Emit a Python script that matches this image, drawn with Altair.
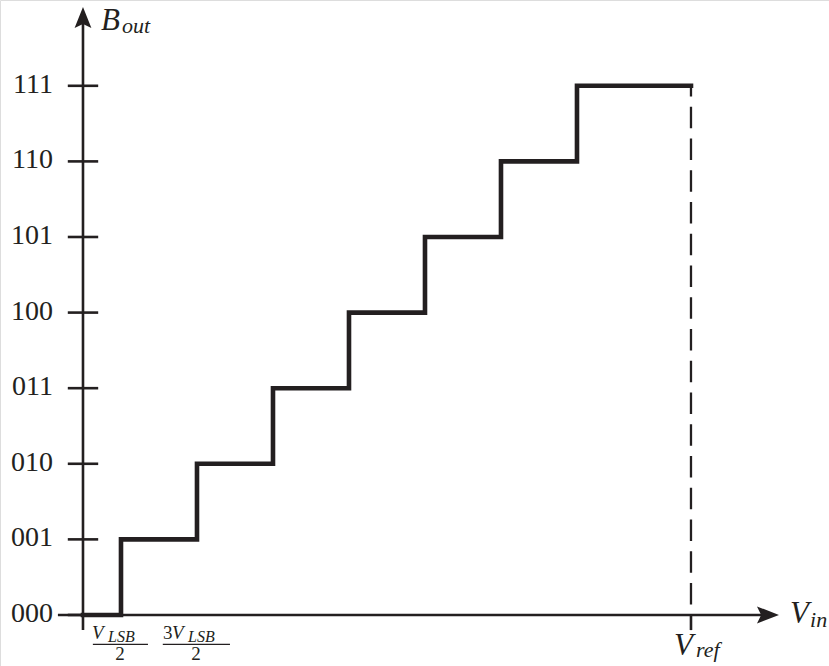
import altair as alt
import pandas as pd

# ---- data ----
codes = ["000", "001", "010", "011", "100", "101", "110", "111"]
levels = [0, 1, 2, 3, 4, 5, 6, 7]
step_x = [0, 0.5, 1.5, 2.5, 3.5, 4.5, 5.5, 6.5, 8]   # in units of V_LSB
step_y = [0, 1, 2, 3, 4, 5, 6, 7, 7]
v_ref = 8
frac_pos = [0.5, 1.5]

INK = "#231f20"
SERIF = "Liberation Serif"

xs = alt.Scale(domain=[-1.092, 9.816], nice=False, zero=False)
ys = alt.Scale(domain=[-0.675, 8.135], nice=False, zero=False)


def X(f="x"):
    return alt.X(f"{f}:Q", scale=xs, axis=None)


def Y(f="y"):
    return alt.Y(f"{f}:Q", scale=ys, axis=None)


def rule(df, **kw):
    enc = {}
    for c in df.columns:
        if c == "x":
            enc["x"] = X("x")
        elif c == "x2":
            enc["x2"] = alt.X2("x2:Q")
        elif c == "y":
            enc["y"] = Y("y")
        elif c == "y2":
            enc["y2"] = alt.Y2("y2:Q")
    props = dict(color=INK, strokeWidth=2.6)
    props.update(kw)
    return alt.Chart(df).mark_rule(**props).encode(**enc)


def text(df, **kw):
    props = dict(font=SERIF, color=INK, baseline="alphabetic", align="left")
    props.update(kw)
    return alt.Chart(df).mark_text(**props).encode(x=X("x"), y=Y("y"), text="t:N")


# ---- axes ----
y_axis = rule(pd.DataFrame({"x": [0], "y": [-0.2], "y2": [7.9]}))
x_axis = rule(pd.DataFrame({"x": [-0.33], "x2": [9.0], "y": [0]}))
y_ticks = rule(pd.DataFrame({"x": [-0.2] * len(levels), "x2": [0.2] * len(levels), "y": levels}))
ref_tick = rule(pd.DataFrame({"x": [v_ref], "y": [0], "y2": [-0.2]}))

up_arrow = alt.Chart(pd.DataFrame({"x": [0], "y": [7.903]})).mark_point(
    shape="M0,-1 L0.8,1 L0,0.62 L-0.8,1 Z", size=441, filled=True, fill=INK, stroke=None, opacity=1
).encode(x=X("x"), y=Y("y"))
right_arrow = alt.Chart(pd.DataFrame({"x": [9.013], "y": [0]})).mark_point(
    shape="M1,0 L-1,0.78 L-0.62,0 L-1,-0.78 Z", size=484, filled=True, fill=INK, stroke=None, opacity=1
).encode(x=X("x"), y=Y("y"))

# ---- dashed V_ref line ----
dashed = rule(pd.DataFrame({"x": [v_ref], "y": [7], "y2": [0]}),
              strokeWidth=2.3, strokeDash=[21.5, 10.25], strokeDashOffset=10.75)

# ---- staircase ----
stairs = alt.Chart(pd.DataFrame({"x": step_x, "y": step_y})).mark_line(
    interpolate="step-after", color=INK, strokeWidth=4.6, strokeJoin="miter", strokeCap="square"
).encode(x=X("x"), y=Y("y"), order="x:Q")

# ---- y tick labels ----
y_labels = text(pd.DataFrame({"x": [0] * len(codes), "y": levels, "t": codes}),
                align="right", baseline="middle", dx=-30, dy=-1, fontSize=28)

# ---- axis titles ----
b_main = text(pd.DataFrame({"x": [0], "y": [7.738], "t": ["B"]}), dx=18, fontSize=31, fontStyle="italic")
b_sub = text(pd.DataFrame({"x": [0], "y": [7.738], "t": ["out"]}), dx=39, dy=3, fontSize=22, fontStyle="italic")

vin_main = text(pd.DataFrame({"x": [9.33], "y": [0], "t": ["V"]}), dx=-2, dy=8, fontSize=31, fontStyle="italic")
vin_sub = text(pd.DataFrame({"x": [9.33], "y": [0], "t": ["in"]}), dx=18, dy=12, fontSize=22, fontStyle="italic")

vref_main = text(pd.DataFrame({"x": [v_ref], "y": [0], "t": ["V"]}), dx=-17, dy=40, fontSize=31, fontStyle="italic")
vref_sub = text(pd.DataFrame({"x": [v_ref], "y": [0], "t": ["ref"]}), dx=5, dy=42, fontSize=22, fontStyle="italic")

# ---- fraction labels V_LSB/2 and 3V_LSB/2 ----
f1_v = text(pd.DataFrame({"x": [frac_pos[0]], "y": [0], "t": ["V"]}), dx=-29, dy=24, fontSize=19, fontStyle="italic")
f1_s = text(pd.DataFrame({"x": [frac_pos[0]], "y": [0], "t": ["LSB"]}), dx=-13, dy=27, fontSize=16, fontStyle="italic")
f2_n = text(pd.DataFrame({"x": [frac_pos[1]], "y": [0], "t": ["3"]}), dx=-34, dy=24, fontSize=19)
f2_v = text(pd.DataFrame({"x": [frac_pos[1]], "y": [0], "t": ["V"]}), dx=-25, dy=24, fontSize=19, fontStyle="italic")
f2_s = text(pd.DataFrame({"x": [frac_pos[1]], "y": [0], "t": ["LSB"]}), dx=-9, dy=27, fontSize=16, fontStyle="italic")
bars = rule(pd.DataFrame({"x": [0.13, 1.05], "x2": [0.855, 1.934], "y": [-0.39, -0.39]}), strokeWidth=1.2)
denoms = text(pd.DataFrame({"x": frac_pos, "y": [0, 0], "t": ["2", "2"]}), align="center", dx=-1, dy=45, fontSize=19)

chart = alt.layer(
    dashed, x_axis, y_axis, y_ticks, ref_tick, up_arrow, right_arrow, stairs,
    y_labels, b_main, b_sub, vin_main, vin_sub, vref_main, vref_sub,
    f1_v, f1_s, f2_n, f2_v, f2_s, bars, denoms,
).properties(
    width=829, height=666, padding=0, autosize=alt.AutoSizeParams(type="none")
).configure_view(stroke=None).configure(background="white")

chart.save("out.html", embed_options={"renderer": "svg", "actions": False})
